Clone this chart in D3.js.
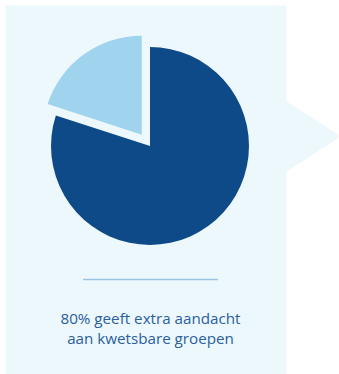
<!DOCTYPE html>
<html>
<head>
<meta charset="utf-8">
<script src="https://cdn.jsdelivr.net/npm/d3@7"></script>
<style>
  html, body { margin: 0; padding: 0; background: #ffffff; }
  svg { display: block; }
</style>
</head>
<body>
<svg id="chart" width="339" height="374"></svg>
<script>
// Share of respondents, in percent
const categories = ["extra aandacht", "overig"];
const values = [80, 20];
const colors = ["#0d4a87", "#a0d3ee"];
const captionLines = ["80% geeft extra aandacht", "aan kwetsbare groepen"];

const svg = d3.select("#chart");

// Card background with a pointer on the right side
svg.append("rect")
  .attr("x", 5.5).attr("y", 5.5)
  .attr("width", 281).attr("height", 370)
  .attr("fill", "#edf8fd");

svg.append("path")
  .attr("d", "M286,101 L337,134 Q339.5,136.5 337,139 L286,172 Z")
  .attr("fill", "#edf8fd");

// Pie
const cx = 150, cy = 146, r = 99, explode = 14;
const pie = d3.pie().sort(null).value(d => d.value);
const arc = d3.arc().innerRadius(0).outerRadius(r);
const arcs = pie(categories.map((c, i) => ({ name: c, value: values[i] })));

const g = svg.append("g").attr("transform", `translate(${cx},${cy})`);
g.selectAll("path")
  .data(arcs)
  .join("path")
  .attr("d", arc)
  .attr("fill", (d, i) => colors[i])
  .attr("transform", (d, i) => {
    if (i === 0) return null;
    const mid = (d.startAngle + d.endAngle) / 2;
    return `translate(${Math.sin(mid) * explode},${-Math.cos(mid) * explode})`;
  });

// Divider
svg.append("line")
  .attr("x1", 83).attr("x2", 218)
  .attr("y1", 279.5).attr("y2", 279.5)
  .attr("stroke", "#9dc4e2")
  .attr("stroke-width", 1.5);

// Caption
svg.append("text")
  .attr("x", 150.5).attr("y", 324)
  .attr("text-anchor", "middle")
  .attr("font-family", "'Open Sans', 'Noto Sans', sans-serif")
  .attr("font-size", 15.2)
  .attr("fill", "#2a5e9c")
  .selectAll("tspan")
  .data(captionLines)
  .join("tspan")
  .attr("x", 150.5)
  .attr("dy", (d, i) => i === 0 ? 0 : 20)
  .text(d => d);
</script>
</body>
</html>
